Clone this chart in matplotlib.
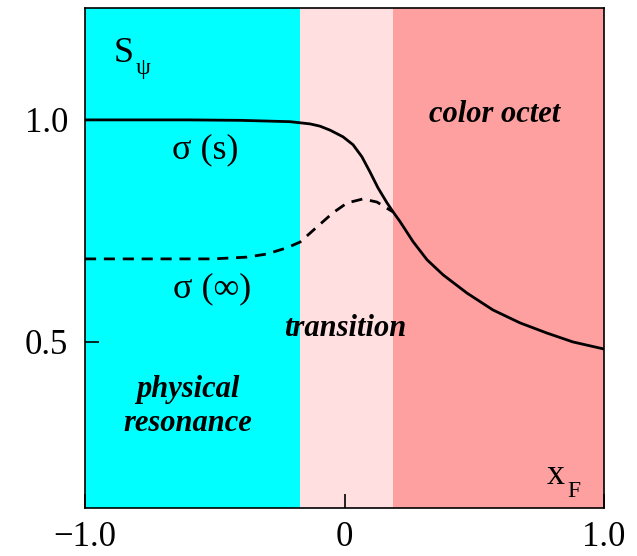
import numpy as np
import matplotlib.pyplot as plt

# curve values
x_solid = [-1.0, -0.6, -0.4, -0.21, -0.133, -0.095, -0.056, -0.006, 0.033, 0.067,
           0.098, 0.129, 0.164, 0.187, 0.214, 0.264, 0.318, 0.380, 0.472, 0.572,
           0.676, 0.780, 0.880, 1.0]
y_solid = [1.0, 1.0, 0.999, 0.996, 0.991, 0.986, 0.977, 0.962, 0.944, 0.917,
           0.883, 0.847, 0.813, 0.793, 0.771, 0.726, 0.685, 0.651, 0.610, 0.572,
           0.543, 0.520, 0.500, 0.484]

x_dash = [-1.0, -0.7, -0.507, -0.376, -0.299, -0.222, -0.171, -0.106, -0.044,
          0.010, 0.071, 0.125, 0.175, 0.187]
y_dash = [0.687, 0.687, 0.687, 0.691, 0.698, 0.712, 0.725, 0.759, 0.791,
          0.813, 0.822, 0.815, 0.797, 0.793]

# regions (x ranges) and colours
regions = [(-1.0, -0.171), (-0.171, 0.187), (0.187, 1.0)]
region_colors = ['#00ffff', '#ffdfdf', '#ffa0a0']

serif = ['Liberation Serif', 'DejaVu Serif']

fig = plt.figure(figsize=(6.37, 5.56), dpi=100)
ax = fig.add_axes([85 / 637, 48 / 556, 519 / 637, 500 / 556])

for (x0, x1), c in zip(regions, region_colors):
    ax.axvspan(x0, x1, color=c, lw=0, zorder=0)

ax.plot(x_solid, y_solid, color='black', lw=2.0, zorder=3)
ax.plot(x_dash, y_dash, color='black', lw=2.0, ls=(0, (4, 2.8)), zorder=3)

ax.set_xlim(-1.0, 1.0)
ax.set_ylim(0.126, 1.252)
ax.set_xticks([-1.0, 0, 1.0])
ax.set_xticklabels(['\u22121.0', '0', '1.0'], family=serif, fontsize=25)
ax.set_yticks([0.5, 1.0])
ax.set_yticklabels(['0.5', '1.0'], family=serif, fontsize=25)
ax.tick_params(axis='both', direction='in', length=10, width=1.2, color='black')
ax.tick_params(axis='x', pad=9)
ax.tick_params(axis='y', pad=12)
for s in ax.spines.values():
    s.set_linewidth(1.2)

# labels
ax.text(-0.89, 1.15, 'S', family=serif, fontsize=26, ha='left', va='center')
ax.text(-0.805, 1.115, '\u03c8', family=serif, fontsize=17, ha='left', va='center')
ax.text(-0.538, 0.932, '\u03c3 (s)', family=serif, fontsize=26, ha='center', va='center')
ax.text(-0.511, 0.619, '\u03c3 (\u221e)', family=serif, fontsize=26, ha='center', va='center')
ax.text(0.815, 0.20, 'x', family=serif, fontsize=26, ha='center', va='center')
ax.text(0.885, 0.163, 'F', family=serif, fontsize=17, ha='center', va='center')

ax.text(0.58, 1.013, 'color octet', family=serif, fontsize=22, weight='bold',
        style='italic', ha='center', va='center')
ax.text(0.002, 0.53, 'transition', family=serif, fontsize=22, weight='bold',
        style='italic', ha='center', va='center')
ax.text(-0.603, 0.355, 'physical\nresonance', family=serif, fontsize=22, weight='bold',
        style='italic', ha='center', va='center', linespacing=1.25)

fig.savefig('out.png', dpi=100)
